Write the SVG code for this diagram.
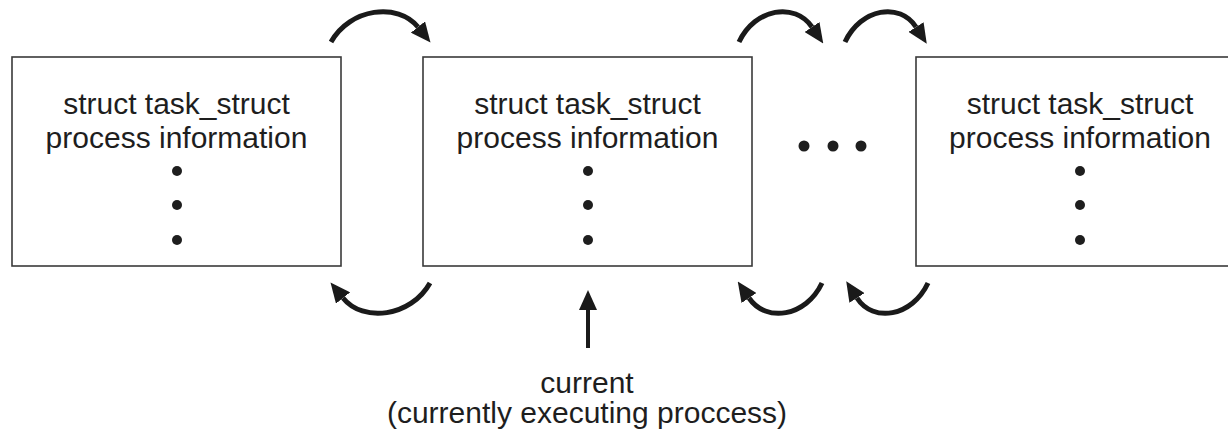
<svg xmlns="http://www.w3.org/2000/svg" width="1228" height="434" viewBox="0 0 1228 434">
<style>
.box{fill:#fff;stroke:#3a3a3a;stroke-width:1.6}
.t{font-family:"Liberation Sans",Arial,sans-serif;font-size:30px;fill:#1e1e1e;text-anchor:middle}
.dot{fill:#1e1e1e}
.arc{fill:none;stroke:#1a1a1a;stroke-width:5;marker-end:url(#ah)}
.up{fill:none;stroke:#1a1a1a;stroke-width:4;marker-end:url(#ah)}
</style>
<defs>
<marker id="ah" viewBox="0 0 20 18" refX="0" refY="9" markerWidth="20" markerHeight="18" markerUnits="userSpaceOnUse" orient="auto">
<path d="M0,0 L20,9 L0,18 z" fill="#1a1a1a"/>
</marker>
</defs>
<rect width="1228" height="434" fill="#fff"/>
<g id="task1">
<rect class="box" x="12" y="57" width="329" height="209"/>
<text class="t" x="176.5" y="114">struct task_struct</text>
<text class="t" x="176.5" y="148">process information</text>
<circle class="dot" cx="177" cy="171" r="5"/>
<circle class="dot" cx="177" cy="205" r="5"/>
<circle class="dot" cx="177" cy="240" r="5"/>
</g>
<g id="task2">
<rect class="box" x="423" y="57" width="329" height="209"/>
<text class="t" x="587.5" y="114">struct task_struct</text>
<text class="t" x="587.5" y="148">process information</text>
<circle class="dot" cx="588" cy="171" r="5"/>
<circle class="dot" cx="588" cy="205" r="5"/>
<circle class="dot" cx="588" cy="240" r="5"/>
</g>
<g id="ellipsis">
<circle class="dot" cx="804" cy="146" r="5.5"/>
<circle class="dot" cx="833" cy="146" r="5.5"/>
<circle class="dot" cx="861" cy="146" r="5.5"/>
</g>
<g id="task3">
<rect class="box" x="916" y="57" width="330" height="209"/>
<text class="t" x="1080" y="114">struct task_struct</text>
<text class="t" x="1080" y="148">process information</text>
<circle class="dot" cx="1080" cy="171" r="5"/>
<circle class="dot" cx="1080" cy="205" r="5"/>
<circle class="dot" cx="1080" cy="240" r="5"/>
</g>
<g id="current">
<text class="t" x="587" y="393">current</text>
<text class="t" x="587" y="423">(currently executing proccess)</text>
</g>
<g id="connectors">
<path class="arc" d="M331,42 C350,8 398,2 418,27"/>
<path class="arc" d="M430,283 C411,317 363,323 343,298"/>
<path class="arc" d="M739,42 C755,8 795,2 812,27"/>
<path class="arc" d="M822,283 C806,317 766,323 749,298"/>
<path class="arc" d="M845,42 C861,8 900,2 916,27"/>
<path class="arc" d="M928,283 C912,317 873,323 857,298"/>
<path class="up" d="M588,348 L588,310"/>
</g>
</svg>
